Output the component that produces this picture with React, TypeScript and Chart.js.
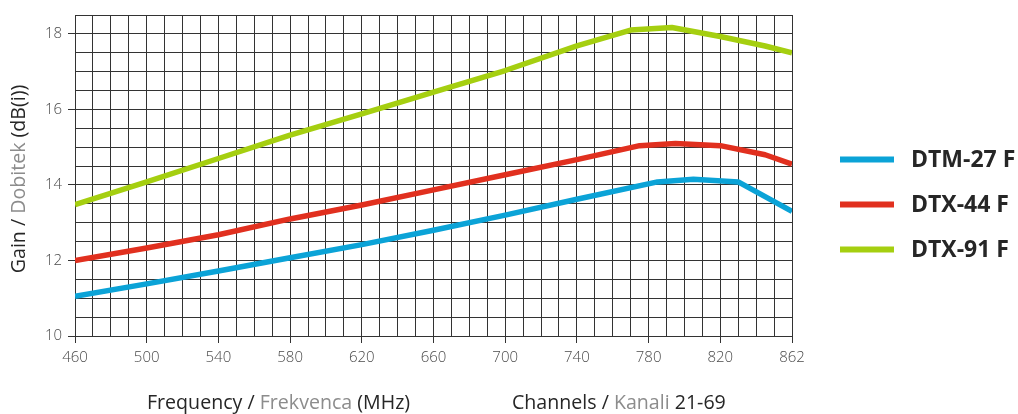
import React, { useEffect, useRef } from "react";
import { Chart, registerables } from "chart.js";

Chart.register(...registerables);

// ---- data ----
const seriesNames = ["DTM-27 F", "DTX-44 F", "DTX-91 F"];
const seriesColors = ["#0ba3d7", "#e1301f", "#a5cf10"];

const freqDTM27 = [460, 500, 540, 580, 620, 660, 700, 740, 785, 805, 830, 860];
const gainDTM27 = [11.05, 11.38, 11.72, 12.07, 12.42, 12.8, 13.2, 13.62, 14.08, 14.15, 14.08, 13.3];

const freqDTX44 = [460, 500, 540, 580, 620, 660, 700, 740, 775, 795, 820, 845, 860];
const gainDTX44 = [12.0, 12.33, 12.68, 13.1, 13.47, 13.87, 14.27, 14.67, 15.04, 15.1, 15.04, 14.8, 14.55];

const freqDTX91 = [460, 500, 540, 580, 620, 660, 700, 740, 770, 793, 820, 845, 860];
const gainDTX91 = [13.48, 14.08, 14.7, 15.32, 15.88, 16.46, 17.03, 17.68, 18.1, 18.17, 17.93, 17.68, 17.5];

const xMin = 460;
const xMax = 860;
const xGridStep = 10;
const xLabelStep = 40;
const xTickLabels = ["460", "500", "540", "580", "620", "660", "700", "740", "780", "820", "862"];

const yMin = 10;
const yMax = 18.5;
const yGridStep = 0.5;
const yLabelStep = 2;
const yTickLabels = ["10", "12", "14", "16", "18"];

const xTitleParts = [
  { text: "Frequency / ", grey: false },
  { text: "Frekvenca", grey: true },
  { text: " (MHz)", grey: false },
];
const xTitle2Parts = [
  { text: "Channels / ", grey: false },
  { text: "Kanali", grey: true },
  { text: " 21-69", grey: false },
];
const yTitleParts = [
  { text: "Gain / ", grey: false },
  { text: "Dobitek", grey: true },
  { text: " (dB(i))", grey: false },
];

const FONT = "'Open Sans', 'DejaVu Sans', sans-serif";
const DARK = "#262626";
const GREY = "#8c8c8c";
const GRID = "#333333";

function toPoints(xs: number[], ys: number[]) {
  return xs.map((x, i) => ({ x, y: ys[i] }));
}

function range(min: number, max: number, step: number) {
  const out: number[] = [];
  const n = Math.round((max - min) / step);
  for (let i = 0; i <= n; i++) out.push(+(min + i * step).toFixed(4));
  return out;
}

function isMajor(v: number, min: number, step: number) {
  const k = (v - min) / step;
  return Math.abs(k - Math.round(k)) < 1e-6;
}

function drawParts(ctx: CanvasRenderingContext2D, parts: { text: string; grey: boolean }[], x: number, y: number) {
  let cx = x;
  for (const p of parts) {
    ctx.fillStyle = p.grey ? GREY : DARK;
    ctx.fillText(p.text, cx, y);
    cx += ctx.measureText(p.text).width;
  }
}

function partsWidth(ctx: CanvasRenderingContext2D, parts: { text: string; grey: boolean }[]) {
  return parts.reduce((s, p) => s + ctx.measureText(p.text).width, 0);
}

const overlayPlugin = {
  id: "overlay",
  afterDraw(chart: any) {
    const ctx: CanvasRenderingContext2D = chart.ctx;
    ctx.save();
    // x titles
    ctx.font = `400 19.6px ${FONT}`;
    ctx.textBaseline = "alphabetic";
    ctx.textAlign = "left";
    drawParts(ctx, xTitleParts, 147, 409);
    drawParts(ctx, xTitle2Parts, 512, 409);
    // y title (rotated)
    const w = partsWidth(ctx, yTitleParts);
    ctx.translate(25, 179 + w / 2);
    ctx.rotate(-Math.PI / 2);
    drawParts(ctx, yTitleParts, 0, 0);
    ctx.restore();

    // legend
    ctx.save();
    const rowY = [159.5, 204.5, 249.5];
    chart.data.datasets.forEach((ds: any, i: number) => {
      ctx.strokeStyle = ds.borderColor;
      ctx.lineWidth = 6;
      ctx.lineCap = "butt";
      ctx.beginPath();
      ctx.moveTo(840, rowY[i]);
      ctx.lineTo(894, rowY[i]);
      ctx.stroke();
      ctx.font = `700 23px ${FONT}`;
      ctx.fillStyle = DARK;
      ctx.textBaseline = "middle";
      ctx.textAlign = "left";
      ctx.fillText(ds.label, 911, rowY[i] + 1);
    });
    ctx.restore();
  },
};

export default function App() {
  const ref = useRef<HTMLCanvasElement | null>(null);

  useEffect(() => {
    if (!ref.current) return;
    const chart = new Chart(ref.current, {
      type: "line",
      data: {
        datasets: [
          { label: seriesNames[0], data: toPoints(freqDTM27, gainDTM27), borderColor: seriesColors[0] },
          { label: seriesNames[1], data: toPoints(freqDTX44, gainDTX44), borderColor: seriesColors[1] },
          { label: seriesNames[2], data: toPoints(freqDTX91, gainDTX91), borderColor: seriesColors[2] },
        ].map((d) => ({
          ...d,
          borderWidth: 5.5,
          pointRadius: 0,
          tension: 0,
          fill: false,
          borderJoinStyle: "round" as const,
          borderCapStyle: "butt" as const,
        })),
      },
      options: {
        animation: false,
        responsive: false,
        devicePixelRatio: 1,
        layout: { padding: { top: 13, right: 226, bottom: 0, left: 0 } },
        plugins: { legend: { display: false }, tooltip: { enabled: false } },
        scales: {
          x: {
            type: "linear",
            min: xMin,
            max: xMax,
            afterBuildTicks: (s: any) => {
              s.ticks = range(xMin, xMax, xGridStep).map((v) => ({ value: v }));
            },
            afterFit: (s: any) => {
              s.height = 78;
            },
            ticks: {
              autoSkip: false,
              maxRotation: 0,
              padding: 6,
              color: "#4a4a4a",
              font: { family: FONT, size: 15, weight: "300" as any },
              callback: (v: any) =>
                isMajor(Number(v), xMin, xLabelStep) ? xTickLabels[Math.round((Number(v) - xMin) / xLabelStep)] : "",
            },
            grid: {
              color: GRID,
              lineWidth: 1,
              tickLength: 7,
              tickColor: (c: any) =>
                c.tick && isMajor(c.tick.value, xMin, xLabelStep) ? GRID : "rgba(0,0,0,0)",
            },
            border: { color: GRID, width: 1 },
          },
          y: {
            type: "linear",
            min: yMin,
            max: yMax,
            afterBuildTicks: (s: any) => {
              s.ticks = range(yMin, yMax, yGridStep).map((v) => ({ value: v }));
            },
            afterFit: (s: any) => {
              s.width = 75;
            },
            ticks: {
              autoSkip: false,
              padding: 6,
              color: "#4a4a4a",
              font: { family: FONT, size: 15, weight: "300" as any },
              callback: (v: any) =>
                isMajor(Number(v), yMin, yLabelStep) ? yTickLabels[Math.round((Number(v) - yMin) / yLabelStep)] : "",
            },
            grid: {
              color: GRID,
              lineWidth: 1,
              tickLength: 7,
              tickColor: (c: any) =>
                c.tick && isMajor(c.tick.value, yMin, yLabelStep) ? GRID : "rgba(0,0,0,0)",
            },
            border: { color: GRID, width: 1 },
          },
        },
      },
      plugins: [overlayPlugin],
    });
    return () => chart.destroy();
  }, []);

  return (
    <div style={{ position: "absolute", left: 0, top: 0, width: 1018, height: 414, background: "#fff" }}>
      <canvas ref={ref} width={1018} height={414} style={{ display: "block" }} />
    </div>
  );
}
